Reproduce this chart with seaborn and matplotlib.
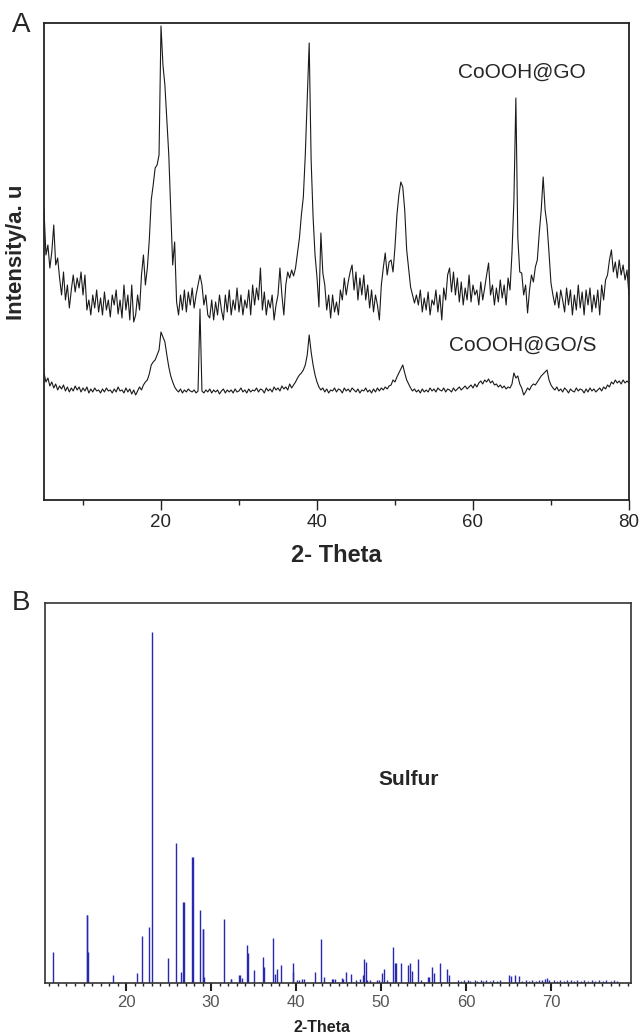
import numpy as np
import pandas as pd
import matplotlib
matplotlib.use("Agg")
import matplotlib.pyplot as plt
from matplotlib.ticker import MultipleLocator, FixedLocator
import seaborn as sns

# --- panel A: XRD patterns, 2-theta from 5 to 80 in 0.25 steps (one row = one degree) ---
go_int = [
    290, 245, 255, 232,  # 5
    248, 275, 235, 242,  # 6
    222, 205, 228, 200,  # 7
    215, 192, 210, 225,  # 8
    208, 222, 212, 228,  # 9
    205, 225, 190, 200,  # 10
    185, 205, 192, 210,  # 11
    188, 202, 185, 208,  # 12
    190, 200, 183, 205,  # 13
    195, 210, 186, 200,  # 14
    182, 215, 190, 205,  # 15
    180, 215, 178, 185,  # 16
    205, 190, 225, 245,  # 17
    215, 232, 260, 300,  # 18
    315, 332, 335, 345,  # 19
    474, 435, 415, 380,  # 20
    345, 290, 235, 258,  # 21
    198, 185, 205, 190,  # 22
    210, 188, 208, 195,  # 23
    212, 192, 205, 215,  # 24
    225, 215, 195, 205,  # 25
    185, 182, 200, 180,  # 26
    198, 185, 205, 190,  # 27
    180, 205, 188, 210,  # 28
    185, 200, 190, 212,  # 29
    188, 205, 185, 200,  # 30
    192, 210, 185, 215,  # 31
    195, 212, 200, 232,  # 32
    190, 208, 185, 200,  # 33
    192, 205, 180, 195,  # 34
    205, 232, 205, 185,  # 35
    215, 228, 222, 230,  # 36
    224, 232, 247, 262,  # 37
    285, 303, 345, 400,  # 38
    457, 340, 283, 245,  # 39
    223, 193, 267, 227,  # 40
    215, 190, 205, 182,  # 41
    205, 188, 198, 185,  # 42
    210, 200, 222, 205,  # 43
    218, 228, 235, 210,  # 44
    228, 200, 222, 205,  # 45
    225, 200, 215, 192,  # 46
    210, 188, 205, 195,  # 47
    180, 215, 232, 247,  # 48
    225, 238, 240, 228,  # 49
    253, 285, 305, 318,  # 50
    313, 290, 250, 232,  # 51
    213, 205, 197, 205,  # 52
    195, 210, 188, 202,  # 53
    190, 208, 185, 200,  # 54
    195, 210, 188, 205,  # 55
    180, 212, 200, 225,  # 56
    232, 208, 228, 205,  # 57
    222, 198, 218, 195,  # 58
    212, 200, 225, 198,  # 59
    215, 205, 210, 195,  # 60
    218, 200, 212, 225,  # 61
    237, 205, 215, 195,  # 62
    212, 198, 220, 202,  # 63
    215, 195, 222, 210,  # 64
    247, 300, 402, 262,  # 65
    228, 227, 205, 215,  # 66
    187, 210, 225, 218,  # 67
    233, 240, 267, 290,  # 68
    323, 290, 275, 247,  # 69
    217, 205, 195, 208,  # 70
    192, 210, 200, 188,  # 71
    212, 195, 210, 185,  # 72
    205, 190, 215, 192,  # 73
    208, 185, 210, 195,  # 74
    212, 188, 205, 192,  # 75
    210, 185, 215, 200,  # 76
    220, 225, 240, 250,  # 77
    228, 238, 222, 240,  # 78
    225, 235, 220, 230,  # 79
    205,                 # 80
]

gos_int = [
    127, 118, 122, 114,  # 5
    118, 112, 116, 110,  # 6
    114, 111, 115, 109,  # 7
    113, 108, 112, 109,  # 8
    114, 110, 113, 108,  # 9
    112, 109, 113, 107,  # 10
    111, 108, 112, 109,  # 11
    110, 107, 111, 108,  # 12
    112, 109, 110, 107,  # 13
    111, 108, 113, 109,  # 14
    110, 107, 112, 108,  # 15
    111, 106, 110, 105,  # 16
    109, 113, 110, 115,  # 17
    118, 120, 126, 135,  # 18
    138, 140, 145, 150,  # 19
    168, 163, 158, 145,  # 20
    133, 124, 118, 113,  # 21
    110, 108, 111, 107,  # 22
    110, 108, 111, 109,  # 23
    108, 110, 107, 109,  # 24
    191, 109, 107, 110,  # 25
    108, 111, 107, 110,  # 26
    108, 110, 106, 109,  # 27
    111, 107, 110, 108,  # 28
    110, 107, 111, 108,  # 29
    109, 112, 108, 110,  # 30
    107, 111, 108, 110,  # 31
    109, 112, 108, 111,  # 32
    110, 107, 112, 109,  # 33
    111, 108, 113, 110,  # 34
    112, 109, 114, 111,  # 35
    113, 110, 116, 112,  # 36
    115, 118, 122, 125,  # 37
    127, 130, 135, 145,  # 38
    165, 148, 135, 125,  # 39
    118, 113, 110, 112,  # 40
    108, 111, 107, 110,  # 41
    109, 112, 108, 111,  # 42
    110, 107, 112, 109,  # 43
    111, 108, 112, 110,  # 44
    108, 111, 107, 110,  # 45
    109, 112, 108, 110,  # 46
    107, 111, 108, 112,  # 47
    109, 112, 110, 113,  # 48
    111, 114, 115, 120,  # 49
    118, 123, 127, 131,  # 50
    135, 127, 120, 116,  # 51
    112, 109, 111, 108,  # 52
    110, 107, 111, 108,  # 53
    110, 108, 112, 109,  # 54
    111, 108, 112, 110,  # 55
    109, 112, 108, 111,  # 56
    110, 108, 112, 109,  # 57
    111, 113, 110, 112,  # 58
    114, 111, 113, 115,  # 59
    112, 116, 113, 117,  # 60
    119, 116, 120, 118,  # 61
    121, 117, 119, 115,  # 62
    116, 113, 115, 112,  # 63
    114, 111, 113, 112,  # 64
    116, 127, 122, 124,  # 65
    116, 112, 105, 108,  # 66
    112, 110, 114, 116,  # 67
    115, 118, 121, 124,  # 68
    126, 128, 130, 120,  # 69
    115, 112, 110, 113,  # 70
    109, 111, 108, 112,  # 71
    110, 107, 111, 109,  # 72
    108, 112, 109, 111,  # 73
    110, 107, 111, 108,  # 74
    112, 109, 111, 108,  # 75
    110, 112, 109, 113,  # 76
    111, 115, 113, 118,  # 77
    116, 120, 117, 119,  # 78
    116, 120, 117, 119,  # 79
    117,                 # 80
]

theta = np.arange(len(go_int)) * 0.25 + 5.0
top_ticks = [20, 40, 60, 80]

# --- panel B: sulfur reference sticks ---
sulfur_pos = [11.45, 15.38, 15.43, 15.53, 18.43, 21.26, 21.88, 22.70, 23.06, 24.98,
              25.92, 26.47, 26.72, 26.78, 27.82, 27.87, 28.75, 29.04, 29.08, 29.20,
              31.49, 32.30, 32.40, 33.30, 33.40, 33.60, 34.20, 34.30, 35.00, 36.10,
              36.20, 37.25, 37.50, 37.80, 38.20, 39.60, 39.70, 40.10, 40.40, 40.70,
              40.90, 42.20, 42.90, 43.30, 44.20, 44.40, 44.60, 45.40, 45.50, 45.90,
              46.50, 47.10, 47.50, 47.90, 48.00, 48.20, 48.40, 48.70, 49.50, 49.80,
              50.10, 50.30, 50.70, 51.45, 51.60, 51.80, 52.30, 53.20, 53.40, 53.60,
              54.30, 54.70, 55.50, 55.70, 55.96, 56.20, 56.90, 57.70, 58.00, 59.10,
              59.40, 59.80, 60.20, 60.50, 61.00, 61.30, 61.70, 62.00, 62.40, 62.80,
              63.20, 63.60, 64.00, 65.10, 65.30, 65.70, 66.20, 66.60, 67.00, 67.40,
              67.80, 68.20, 68.60, 68.90, 69.30, 69.50, 69.80, 70.30, 70.70, 71.10,
              71.50, 71.90, 72.30, 72.70, 73.00, 73.50, 73.90, 74.30, 74.80, 75.20,
              75.60, 76.10, 76.50, 77.00, 77.40, 77.80]
sulfur_int = [31, 68, 68, 31, 8, 10, 47, 56, 351, 25,
              140, 11, 81, 81, 126, 126, 73, 54, 54, 6,
              64, 4, 4, 8, 8, 5, 38, 30, 13, 26,
              16, 45, 9, 14, 18, 20, 11, 3, 3, 4,
              4, 11, 44, 6, 4, 4, 4, 5, 4, 11,
              9, 3, 4, 8, 24, 21, 3, 3, 3, 3,
              10, 14, 3, 36, 20, 20, 20, 18, 20, 12,
              24, 3, 6, 6, 16, 10, 20, 14, 8, 3,
              2, 3, 3, 2, 3, 2, 3, 2, 3, 2,
              3, 2, 3, 8, 7, 8, 7, 2, 3, 2,
              3, 2, 3, 3, 4, 5, 3, 3, 2, 3,
              2, 3, 3, 2, 3, 2, 3, 2, 3, 2,
              3, 2, 3, 2, 3, 2]
bottom_ticks = [20, 30, 40, 50, 60, 70]

df_a = pd.DataFrame({"theta": theta, "go": go_int, "gos": gos_int})
df_b = pd.DataFrame({"theta": sulfur_pos, "intensity": sulfur_int})

sns.set_style("white")
plt.rcParams["font.family"] = ["Liberation Sans", "DejaVu Sans"]

fig = plt.figure(figsize=(6.4, 10.36), dpi=100)

# ---------------- panel A ----------------
ax1 = fig.add_axes([0.06875, 0.5174, 0.914, 0.4604])
sns.lineplot(data=df_a, x="theta", y="go", ax=ax1, color="#1a1a1a", lw=0.8)
sns.lineplot(data=df_a, x="theta", y="gos", ax=ax1, color="#1a1a1a", lw=0.8)
ax1.set_xlim(5, 80)
ax1.set_ylim(0, 477)
ax1.set_yticks([])
ax1.xaxis.set_major_locator(FixedLocator(top_ticks))
ax1.xaxis.set_minor_locator(FixedLocator([10, 30, 50, 70]))
ax1.tick_params(axis="x", which="major", direction="out", length=7, width=1,
                labelsize=13.5, pad=3, bottom=True, color="#222222")
ax1.tick_params(axis="x", which="minor", direction="out", length=3.5, width=1,
                bottom=True, color="#222222")
for sp in ax1.spines.values():
    sp.set_color("#222222")
    sp.set_linewidth(1.3)
ax1.set_xlabel("2- Theta", fontsize=17, fontweight="bold")
ax1.xaxis.set_label_coords(0.5, -0.092)
ax1.set_ylabel("Intensity/a. u", fontsize=16, fontweight="bold")
ax1.yaxis.set_label_coords(-0.029, 0.52)
ax1.text(66.3, 428, "CoOOH@GO", fontsize=15, ha="center", va="center")
ax1.text(66.4, 155, "CoOOH@GO/S", fontsize=15, ha="center", va="center")

# ---------------- panel B ----------------
ax2 = fig.add_axes([0.0703, 0.05116, 0.9156, 0.3668])
ax2.vlines(df_b["theta"], 0, df_b["intensity"], color="#2828b0", lw=1.0)
ax2.set_xlim(10.47, 79.4)
ax2.set_ylim(0, 380)
ax2.set_yticks([])
ax2.xaxis.set_major_locator(FixedLocator(bottom_ticks))
ax2.xaxis.set_minor_locator(MultipleLocator(1))
ax2.tick_params(axis="x", which="major", direction="out", length=5.5, width=1.5,
                labelsize=12, pad=3, bottom=True, labelcolor="#555555", color="#222222")
ax2.tick_params(axis="x", which="minor", direction="out", length=2, width=1,
                bottom=True, color="#222222")
for sp in ax2.spines.values():
    sp.set_color("#333333")
    sp.set_linewidth(1.2)
ax2.set_xlabel("2-Theta", fontsize=11.5, fontweight="bold", color="#222222")
ax2.xaxis.set_label_coords(0.473, -0.098)
ax2.text(53.2, 203, "Sulfur", fontsize=15, fontweight="bold", ha="center", va="center")

fig.text(0.033, 0.976, "A", fontsize=20, ha="center", va="center")
fig.text(0.033, 0.418, "B", fontsize=20, ha="center", va="center")

fig.savefig("out.png", dpi=100)
